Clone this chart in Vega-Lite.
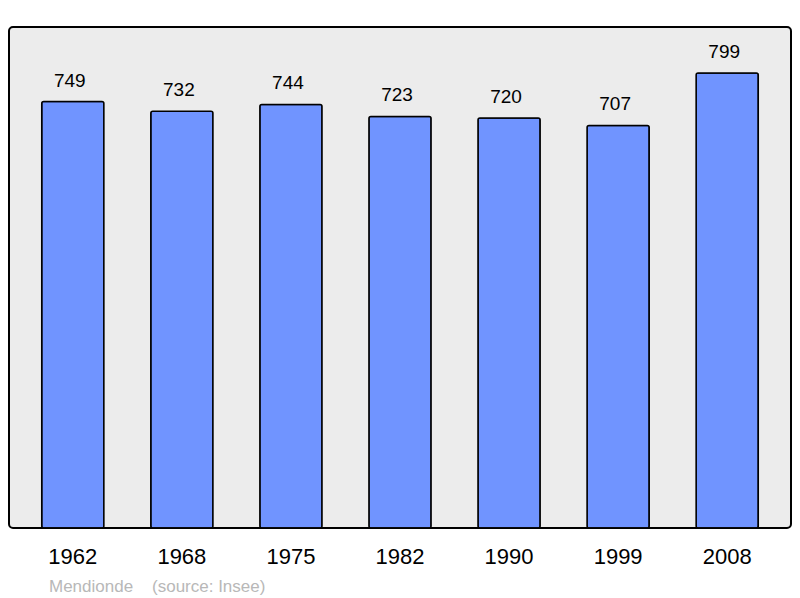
{
  "$schema": "https://vega.github.io/schema/vega-lite/v6.json",
  "description": "Population de Mendionde par recensement.",
  "autosize": "none",
  "padding": {"left": 9, "top": 27, "right": 9, "bottom": 70},
  "width": 782,
  "height": 501,
  "background": "white",
  "data": {
    "values": [
      {"annee": "1962", "population": 749},
      {"annee": "1968", "population": 732},
      {"annee": "1975", "population": 744},
      {"annee": "1982", "population": 723},
      {"annee": "1990", "population": 720},
      {"annee": "1999", "population": 707},
      {"annee": "2008", "population": 799}
    ]
  },
  "title": {
    "text": "Mendionde\u00a0\u00a0\u00a0\u00a0(source: Insee)",
    "orient": "bottom",
    "anchor": "start",
    "frame": "group",
    "dx": 40,
    "offset": 12,
    "fontSize": 17,
    "fontWeight": "normal",
    "color": "#b8b8b8",
    "font": "Liberation Sans"
  },
  "encoding": {
    "x": {
      "field": "annee",
      "type": "ordinal",
      "sort": null,
      "scale": {"paddingInner": 0.43, "paddingOuter": 0.3},
      "axis": {
        "title": null,
        "labelAngle": 0,
        "domain": false,
        "ticks": false,
        "labelFontSize": 22,
        "labelFont": "Liberation Sans",
        "labelColor": "black",
        "labelPadding": 18
      }
    },
    "y": {
      "field": "population",
      "type": "quantitative",
      "scale": {"domain": [0, 880], "nice": false},
      "axis": null
    }
  },
  "layer": [
    {
      "mark": {
        "type": "bar",
        "fill": "#7094ff",
        "stroke": "black",
        "strokeWidth": 1.5,
        "cornerRadius": 2
      }
    },
    {
      "mark": {
        "type": "text",
        "baseline": "alphabetic",
        "dy": -15,
        "dx": -3,
        "fontSize": 19,
        "font": "Liberation Sans",
        "color": "black"
      },
      "encoding": {"text": {"field": "population"}}
    }
  ],
  "config": {
    "view": {"fill": "#ececec", "stroke": "black", "strokeWidth": 2, "cornerRadius": 4}
  }
}
